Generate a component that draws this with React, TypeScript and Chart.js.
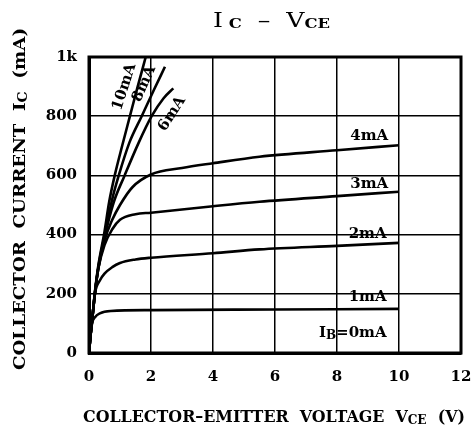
import React, { useEffect, useRef } from 'react';
import { Chart, registerables } from 'chart.js';

Chart.register(...registerables);

// ---- data (VCE in volts, IC in mA) ----
const vce1mA = [0, 0.05, 0.1, 0.2, 0.35, 0.7, 2, 6, 10];
const ic1mA = [0, 60, 100, 122, 134, 142, 145, 147, 149];

const vce2mA = [0, 0.05, 0.1, 0.2, 0.35, 0.5, 0.75, 1, 1.5, 2, 4, 5.5, 8, 10];
const ic2mA = [0, 60, 110, 205, 245, 268, 290, 304, 316, 322, 337, 350, 362, 372];

const vce3mA = [0, 0.05, 0.1, 0.2, 0.3, 0.5, 0.75, 1, 1.5, 2, 4, 5.5, 8, 10];
const ic3mA = [0, 60, 110, 210, 285, 365, 418, 450, 469, 474, 496, 511, 530, 545];

const vce4mA = [0, 0.05, 0.1, 0.2, 0.3, 0.5, 0.75, 1, 1.4, 2, 3, 4, 5.5, 8, 10];
const ic4mA = [0, 60, 110, 210, 285, 380, 450, 500, 560, 603, 625, 641, 663, 685, 702];

const vce6mA = [0, 0.05, 0.1, 0.2, 0.3, 0.5, 0.8, 1.15, 1.6, 2.02, 2.4, 2.72];
const ic6mA = [0, 60, 110, 210, 285, 390, 510, 600, 710, 800, 860, 894];

const vce8mA = [0, 0.05, 0.1, 0.2, 0.3, 0.5, 0.75, 0.96, 1.3, 1.7, 2.1, 2.45];
const ic8mA = [0, 60, 110, 210, 290, 395, 520, 600, 710, 800, 890, 967];

const vce10mA = [0, 0.05, 0.1, 0.2, 0.3, 0.5, 0.65, 0.83, 1.07, 1.32, 1.57, 1.83];
const ic10mA = [0, 60, 110, 215, 295, 410, 510, 600, 700, 800, 900, 1000];

const seriesNames = ['1mA', '2mA', '3mA', '4mA', '6mA', '8mA', '10mA'];
const seriesVce = [vce1mA, vce2mA, vce3mA, vce4mA, vce6mA, vce8mA, vce10mA];
const seriesIc = [ic1mA, ic2mA, ic3mA, ic4mA, ic6mA, ic8mA, ic10mA];

const xMin = 0;
const xMax = 12;
const xStep = 2;
const yMin = 0;
const yMax = 1000;
const yStep = 200;

// curve label anchors in data units
const labelTexts = ['4mA', '3mA', '2mA', '1mA', '0mA', '6mA', '8mA', '10mA'];
const labelVce = [9.65, 9.65, 9.6, 9.6, 9.6, 2.65, 1.75, 1.11];
const labelIc = [736, 574, 405, 193, 71, 810, 911, 900];

const SERIF = '"DejaVu Serif", "Liberation Serif", serif';

type Part = { text: string; font: string; dy?: number };

function drawParts(
  ctx: CanvasRenderingContext2D,
  parts: Part[],
  x: number,
  y: number,
  align: 'left' | 'center' | 'right',
  fitWidth?: number
) {
  const widths: number[] = [];
  let total = 0;
  for (const p of parts) {
    ctx.font = p.font;
    const w = ctx.measureText(p.text).width;
    widths.push(w);
    total += w;
  }
  const sx = fitWidth ? fitWidth / total : 1;
  const drawn = total * sx;
  const start = align === 'center' ? -drawn / 2 : align === 'right' ? -drawn : 0;
  ctx.save();
  ctx.translate(x + start, y);
  ctx.scale(sx, 1);
  ctx.textAlign = 'left';
  ctx.textBaseline = 'alphabetic';
  ctx.fillStyle = '#000';
  let cx = 0;
  parts.forEach((p, i) => {
    ctx.font = p.font;
    ctx.fillText(p.text, cx, p.dy || 0);
    cx += widths[i];
  });
  ctx.restore();
}

const textPlugin = {
  id: 'textPlugin',
  afterDraw(chart: any) {
    const ctx: CanvasRenderingContext2D = chart.ctx;
    const area = chart.chartArea;
    const xs = chart.scales.x;
    const ys = chart.scales.y;

    // frame
    ctx.save();
    ctx.strokeStyle = '#000';
    ctx.lineWidth = 3;
    ctx.strokeRect(area.left, area.top, area.right - area.left, area.bottom - area.top);
    ctx.restore();

    // title
    drawParts(
      ctx,
      [
        { text: 'I', font: `20px ${SERIF}` },
        { text: ' C', font: `bold 13px ${SERIF}`, dy: 1 },
        { text: '  \u2013  ', font: `20px ${SERIF}` },
        { text: 'V', font: `20px ${SERIF}` },
        { text: 'CE', font: `bold 13px ${SERIF}`, dy: 1 },
      ],
      271.5,
      27,
      'center',
      117
    );

    // x-axis title
    drawParts(
      ctx,
      [
        { text: 'COLLECTOR\u2013EMITTER  VOLTAGE  V', font: `bold 17px ${SERIF}` },
        { text: 'CE', font: `bold 13px ${SERIF}`, dy: 2 },
        { text: '  (V)', font: `bold 17px ${SERIF}` },
      ],
      274,
      422,
      'center',
      382
    );

    // y-axis title
    ctx.save();
    ctx.translate(25, 199);
    ctx.rotate(-Math.PI / 2);
    drawParts(
      ctx,
      [
        { text: 'COLLECTOR  CURRENT  I', font: `bold 17px ${SERIF}` },
        { text: 'C', font: `bold 13px ${SERIF}`, dy: 2 },
        { text: '  (mA)', font: `bold 17px ${SERIF}` },
      ],
      0,
      0,
      'center',
      342
    );
    ctx.restore();

    // curve labels
    const labelFont = `bold 15px ${SERIF}`;
    const angles = [0, 0, 0, 0, 0, -57, -66, -72];
    labelTexts.forEach((t, i) => {
      const px = xs.getPixelForValue(labelVce[i]);
      const py = ys.getPixelForValue(labelIc[i]);
      if (angles[i] === 0) {
        const parts: Part[] =
          t === '0mA'
            ? [
                { text: 'I', font: labelFont },
                { text: 'B', font: `bold 12px ${SERIF}`, dy: 2 },
                { text: '=0mA', font: labelFont },
              ]
            : [{ text: t, font: labelFont }];
        drawParts(ctx, parts, px, py + 5, 'right');
      } else {
        ctx.save();
        ctx.translate(px, py);
        ctx.rotate((angles[i] * Math.PI) / 180);
        drawParts(ctx, [{ text: t, font: labelFont }], 0, 5, 'center');
        ctx.restore();
      }
    });
  },
};

export default function App() {
  const ref = useRef<HTMLCanvasElement | null>(null);

  useEffect(() => {
    document.body.style.margin = '0';
    const canvas = ref.current;
    if (!canvas) return;

    const datasets = seriesNames.map((name, i) => ({
      label: name,
      data: seriesVce[i].map((v, j) => ({ x: v, y: seriesIc[i][j] })),
      borderColor: '#000',
      backgroundColor: '#000',
      borderWidth: 2.6,
      pointRadius: 0,
      cubicInterpolationMode: 'monotone' as const,
      fill: false,
    }));

    const chart = new Chart(canvas, {
      type: 'line',
      data: { datasets },
      options: {
        responsive: false,
        animation: false,
        layout: { padding: { top: 57, right: 14, left: 0, bottom: 0 } },
        plugins: {
          legend: { display: false },
          tooltip: { enabled: false },
          title: { display: false },
        },
        scales: {
          x: {
            type: 'linear',
            min: xMin,
            max: xMax,
            afterFit: (s: any) => {
              s.height = 78;
              s.paddingLeft = 0;
              s.paddingRight = 0;
            },
            ticks: {
              stepSize: xStep,
              color: '#000',
              font: { family: SERIF, size: 15, weight: 'bold' },
              padding: 15,
              maxRotation: 0,
            },
            grid: { color: '#000', lineWidth: 1.5, drawTicks: false },
            border: { display: true, color: '#000', width: 3 },
          },
          y: {
            type: 'linear',
            min: yMin,
            max: yMax,
            afterFit: (s: any) => {
              s.width = 89;
              s.paddingTop = 0;
              s.paddingBottom = 0;
            },
            ticks: {
              stepSize: yStep,
              color: '#000',
              font: { family: SERIF, size: 15, weight: 'bold' },
              padding: 12,
              callback: (v: any) => (Number(v) === 1000 ? '1k' : String(v)),
            },
            grid: { color: '#000', lineWidth: 1.5, drawTicks: false },
            border: { display: true, color: '#000', width: 3 },
          },
        },
      },
      plugins: [textPlugin],
    });

    return () => chart.destroy();
  }, []);

  return <canvas ref={ref} width={475} height={431} style={{ display: 'block' }} />;
}
